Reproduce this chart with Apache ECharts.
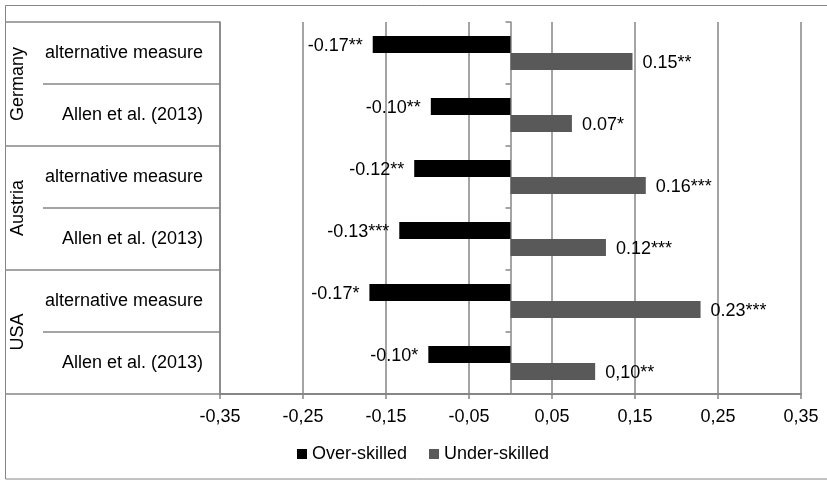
<!DOCTYPE html>
<html><head><meta charset="utf-8">
<script src="https://cdn.jsdelivr.net/npm/echarts@6/dist/echarts.min.js"></script>
<style>html,body{margin:0;padding:0;background:#fff}#c{width:827px;height:481px}</style>
</head><body><div id="c"></div>
<script>
const countries = ['Germany', 'Austria', 'USA'];
const measures = ['alternative measure', 'Allen et al. (2013)', 'alternative measure', 'Allen et al. (2013)', 'alternative measure', 'Allen et al. (2013)'];
const seriesNames = ['Over-skilled', 'Under-skilled'];
const overSkilled = [-0.166, -0.096, -0.116, -0.134, -0.170, -0.099];
const underSkilled = [0.147, 0.074, 0.163, 0.115, 0.229, 0.102];
const overLabels = ['-0.17**', '-0.10**', '-0.12**', '-0.13***', '-0.17*', '-0.10*'];
const underLabels = ['0.15**', '0.07*', '0.16***', '0.12***', '0.23***', '0,10**'];
const tickLabels = ['-0,35', '-0,25', '-0,15', '-0,05', '0,05', '0,15', '0,25', '0,35'];

const FONT = 'Liberation Sans';
const LINE = '#868686';
const TXT = '#000';

const chart = echarts.init(document.getElementById('c'));
chart.setOption({
  animation: false,
  textStyle: { fontFamily: FONT },
  graphic: [{
    type: 'rect', silent: true,
    shape: { x: 5.5, y: 5.5, width: 840, height: 473.5 },
    style: { fill: 'none', stroke: LINE, lineWidth: 1 }
  }],
  legend: {
    data: seriesNames,
    left: 292, top: 440,
    icon: 'rect', itemWidth: 10, itemHeight: 10, itemGap: 22,
    textStyle: { fontSize: 18, color: TXT, fontFamily: FONT }
  },
  grid: [
    { left: 220, right: 26, top: 22, bottom: 87 },
    { left: 43, right: 607, top: 22, bottom: 87 },
    { left: 5, right: 784, top: 22, bottom: 87 }
  ],
  xAxis: [
    { gridIndex: 0, type: 'value', min: -0.35, max: 0.35, show: false },
    {
      gridIndex: 0, type: 'value', min: 0, max: 0.7, interval: 0.1, position: 'bottom',
      axisLine: { show: true, lineStyle: { color: LINE, width: 2 } },
      axisTick: { show: true, length: 5, lineStyle: { color: LINE, width: 1.5 } },
      splitLine: { show: true, lineStyle: { color: LINE, width: 1.5 } },
      axisLabel: {
        show: true, fontSize: 18, color: TXT, margin: 14, fontFamily: FONT,
        showMinLabel: true, showMaxLabel: true,
        formatter: v => tickLabels[Math.round(v * 10)]
      }
    },
    { gridIndex: 1, type: 'value', show: false },
    { gridIndex: 2, type: 'value', show: false }
  ],
  yAxis: [
    {
      gridIndex: 0, type: 'category', data: measures, inverse: true,
      axisLine: { show: true, onZero: true, onZeroAxisIndex: 0, lineStyle: { color: LINE, width: 1.5 } },
      axisTick: { show: true, length: 5, lineStyle: { color: LINE, width: 1.5 } },
      axisLabel: { show: false },
      splitLine: { show: false }
    },
    {
      gridIndex: 1, type: 'category', data: measures, inverse: true, position: 'right',
      axisLine: { show: true, onZero: false, lineStyle: { color: LINE, width: 1.5 } },
      axisTick: { show: false },
      splitLine: { show: true, lineStyle: { color: LINE, width: 1.5 } },
      axisLabel: { show: true, inside: true, margin: 17, fontSize: 18, color: TXT, fontFamily: FONT, interval: 0 }
    },
    {
      gridIndex: 2, type: 'category', data: countries, inverse: true, position: 'left',
      axisLine: { show: false, onZero: false },
      axisTick: { show: false },
      splitLine: { show: true, lineStyle: { color: LINE, width: 1.5 } },
      axisLabel: { show: true, inside: true, rotate: 90, margin: 4, fontSize: 18, color: TXT, fontFamily: FONT, interval: 0 }
    }
  ],
  series: [
    {
      name: seriesNames[0], type: 'bar', xAxisIndex: 0, yAxisIndex: 0,
      data: overSkilled, barWidth: 17, barGap: '0%',
      itemStyle: { color: '#000000' },
      label: {
        show: true, position: 'left', distance: 10, offset: [0, 2], fontSize: 18, color: TXT, fontFamily: FONT,
        formatter: p => overLabels[p.dataIndex]
      }
    },
    {
      name: seriesNames[1], type: 'bar', xAxisIndex: 0, yAxisIndex: 0,
      data: underSkilled, barWidth: 17, barGap: '0%',
      itemStyle: { color: '#595959' },
      label: {
        show: true, position: 'right', distance: 10, offset: [0, 2], fontSize: 18, color: TXT, fontFamily: FONT,
        formatter: p => underLabels[p.dataIndex]
      }
    }
  ]
});
</script>
</body></html>
